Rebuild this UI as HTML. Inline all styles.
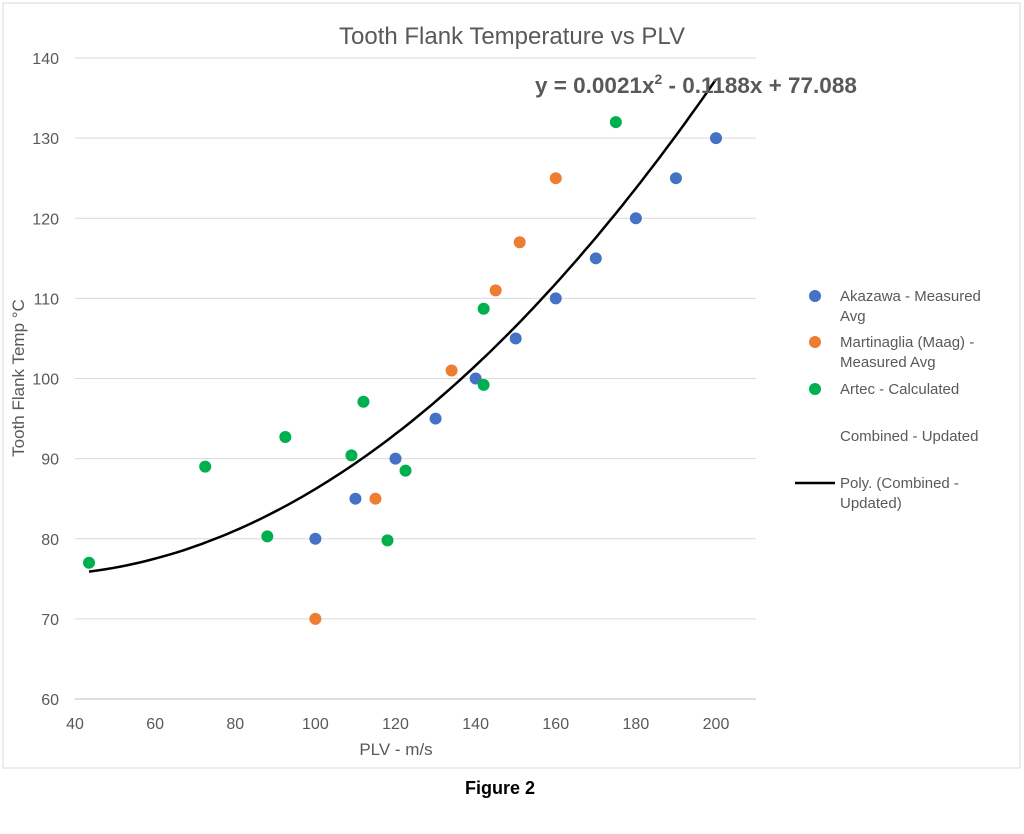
<!DOCTYPE html>
<html><head><meta charset="utf-8"><style>
html,body{margin:0;padding:0;background:#fff;}
svg text{font-family:"Liberation Sans",sans-serif;}
</style></head><body>
<svg width="1024" height="829" viewBox="0 0 1024 829">
<rect x="3" y="3" width="1017" height="765" fill="#fff" stroke="#d9d9d9"/>
<text x="512" y="44" text-anchor="middle" font-size="24" fill="#595959">Tooth Flank Temperature vs PLV</text>
<g id="grid"></g><g id="ticks"></g><g id="marks"></g>
<text x="535" y="93" font-size="22.5" font-weight="bold" fill="#595959">y = 0.0021x<tspan dy="-9" font-size="14">2</tspan><tspan dy="9"> - 0.1188x + 77.088</tspan></text>
<text x="396" y="755" text-anchor="middle" font-size="17" fill="#595959">PLV - m/s</text>
<text transform="translate(24,378) rotate(-90)" text-anchor="middle" font-size="17" fill="#595959">Tooth Flank Temp °C</text>
<g font-size="15" fill="#595959">
<circle cx="815" cy="296" r="6" fill="#4472c4"/>
<text x="840" y="301">Akazawa - Measured<tspan x="840" dy="20">Avg</tspan></text>
<circle cx="815" cy="342" r="6" fill="#ed7d31"/>
<text x="840" y="347">Martinaglia (Maag) -<tspan x="840" dy="20">Measured Avg</tspan></text>
<circle cx="815" cy="389" r="6" fill="#00b050"/>
<text x="840" y="394">Artec - Calculated</text>
<text x="840" y="441">Combined - Updated</text>
<line x1="795" y1="483" x2="835" y2="483" stroke="#000" stroke-width="2.5"/>
<text x="840" y="488">Poly. (Combined -<tspan x="840" dy="20">Updated)</tspan></text>
</g>
<text x="500" y="794" text-anchor="middle" font-size="18" font-weight="bold" fill="#000">Figure 2</text>
</svg>
<script>
const xTicks=[40,60,80,100,120,140,160,180,200];
const yTicks=[60,70,80,90,100,110,120,130,140];
const akazawaX=[100,110,120,130,140,150,160,170,180,190,200];
const akazawaY=[80,85,90,95,100,105,110,115,120,125,130];
const maagX=[100,115,134,145,151,160];
const maagY=[70,85,101,111,117,125];
const artecX=[43.5,72.5,88,92.5,109,112,118,122.5,142,142,175];
const artecY=[77,89,80.3,92.7,90.4,97.1,79.8,88.5,108.7,99.2,132];
const polyCoef=[0.0021,-0.1188,77.088];
const polyRange=[43.5,200];
const X0=75,X1=716,Y0=699,Y1=58;
const sx=v=>X0+(v-40)/(200-40)*(X1-X0);
const sy=v=>Y0-(v-60)/(140-60)*(Y0-Y1);
const NS="http://www.w3.org/2000/svg";
function mk(t,a,p){const e=document.createElementNS(NS,t);for(const k in a)e.setAttribute(k,a[k]);p.appendChild(e);return e;}
const grid=document.getElementById('grid'),ticks=document.getElementById('ticks'),marks=document.getElementById('marks');
yTicks.forEach(v=>{
 const l=mk('line',{x1:X0,x2:756,y1:sy(v),y2:sy(v),stroke:v===60?'#bfbfbf':'#d9d9d9','stroke-width':1},grid);
 
 
 const t=mk('text',{x:X0-16,y:sy(v)+6,'text-anchor':'end','font-size':16,fill:'#595959'},ticks);t.textContent=v;
 
 
});
xTicks.forEach(v=>{
 const t=mk('text',{x:sx(v),y:Y0+30,'text-anchor':'middle','font-size':16,fill:'#595959'},ticks);t.textContent=v;
 
 
});
let d='';
for(let i=0;i<=100;i++){const x=polyRange[0]+(polyRange[1]-polyRange[0])*i/100;const y=polyCoef[0]*x*x+polyCoef[1]*x+polyCoef[2];d+=(i?'L':'M')+sx(x).toFixed(1)+','+sy(y).toFixed(1);}
const pl=mk('path',{d:d,fill:'none',stroke:'#000','stroke-width':2.5},marks);


function pts(xs,ys,c,n){xs.forEach((x,i)=>{const e=mk('circle',{cx:sx(x),cy:sy(ys[i]),r:6,fill:c},marks);
 
 });}
pts(akazawaX,akazawaY,'#4472c4','akazawa');
pts(maagX,maagY,'#ed7d31','martinaglia');
pts(artecX,artecY,'#00b050','artec');
</script>
</body></html>
